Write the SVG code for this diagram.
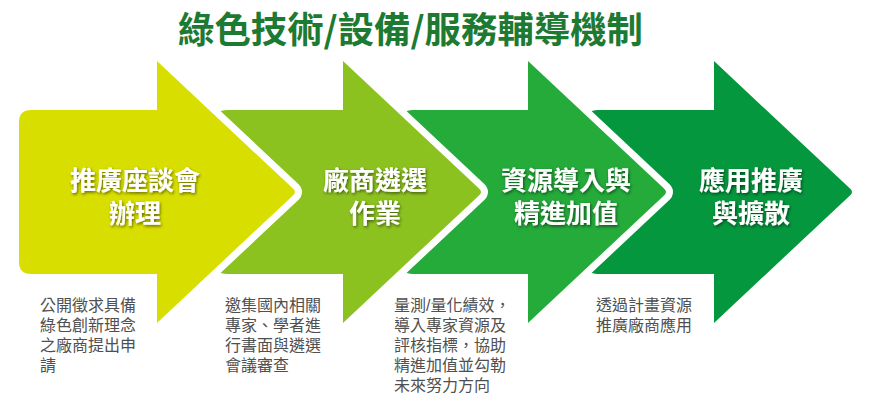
<svg xmlns="http://www.w3.org/2000/svg" width="869" height="413" viewBox="0 0 869 413">
<defs>
<style>
.arrow{stroke:#fff;stroke-width:14;stroke-linejoin:round;paint-order:stroke fill}
.title{font-family:"Noto Sans CJK TC","Noto Sans CJK SC",sans-serif;font-weight:700;font-size:36px;fill:#1d7a33}
.lbl{font-family:"Liberation Sans","Noto Sans CJK TC","Noto Sans CJK SC",sans-serif;font-weight:700;font-size:26px;fill:#fff;text-anchor:middle;filter:url(#sh)}
.desc{font-family:"Liberation Sans","Noto Sans CJK TC","Noto Sans CJK SC",sans-serif;font-weight:400;font-size:16px;fill:#505050}
</style>
<filter id="sh" x="-20%" y="-30%" width="140%" height="160%">
<feDropShadow dx="1" dy="1.5" stdDeviation="1.5" flood-color="#000" flood-opacity="0.55"/>
</filter>
</defs>
<rect width="869" height="413" fill="#fff"/>
<text class="title" x="178" y="43" textLength="465" lengthAdjust="spacingAndGlyphs">綠色技術/設備/服務輔導機制</text>

<g id="arrow4">
<path fill="#05973e" d="M598,110 L714,110 L714,61 L850,188.6 Q854,192 850,195.4 L714,323 L714,274 L598,274 Q586,274 586,262 L586,122 Q586,110 598,110 Z"/>
<text class="lbl" x="751" y="190">應用推廣</text>
<text class="lbl" x="751" y="223">與擴散</text>
</g>
<g id="arrow3">
<path class="arrow" fill="#24ab3a" d="M413,110 L528,110 L528,61 L664,188.6 Q668,192 664,195.4 L528,323 L528,274 L413,274 Q401,274 401,262 L401,122 Q401,110 413,110 Z"/>
<text class="lbl" x="566" y="190">資源導入與</text>
<text class="lbl" x="566" y="223">精進加值</text>
</g>
<g id="arrow2">
<path class="arrow" fill="#8cc220" d="M227,110 L343,110 L343,61 L479,188.6 Q483,192 479,195.4 L343,323 L343,274 L227,274 Q215,274 215,262 L215,122 Q215,110 227,110 Z"/>
<text class="lbl" x="375" y="190">廠商遴選</text>
<text class="lbl" x="375" y="223">作業</text>
</g>
<g id="arrow1">
<path class="arrow" fill="#d8df00" d="M31,110 L157,110 L157,61 L293,188.6 Q297,192 293,195.4 L157,323 L157,274 L31,274 Q19,274 19,262 L19,122 Q19,110 31,110 Z"/>
<text class="lbl" x="135" y="190">推廣座談會</text>
<text class="lbl" x="135" y="223">辦理</text>
</g>

<g id="desc1">
<text class="desc" x="40" y="311"><tspan x="40">公開徵求具備</tspan><tspan x="40" dy="20">綠色創新理念</tspan><tspan x="40" dy="20">之廠商提出申</tspan><tspan x="40" dy="20">請</tspan></text>
</g>
<g id="desc2">
<text class="desc" x="225" y="311"><tspan x="225">邀集國內相關</tspan><tspan x="225" dy="20">專家、學者進</tspan><tspan x="225" dy="20">行書面與遴選</tspan><tspan x="225" dy="20">會議審查</tspan></text>
</g>
<g id="desc3">
<text class="desc" x="394" y="311"><tspan x="394">量測/量化績效，</tspan><tspan x="394" dy="20">導入專家資源及</tspan><tspan x="394" dy="20">評核指標，協助</tspan><tspan x="394" dy="20">精進加值並勾勒</tspan><tspan x="394" dy="20">未來努力方向</tspan></text>
</g>
<g id="desc4">
<text class="desc" x="596" y="311"><tspan x="596">透過計畫資源</tspan><tspan x="596" dy="20">推廣廠商應用</tspan></text>
</g>
<g id="connectors"/>
</svg>
